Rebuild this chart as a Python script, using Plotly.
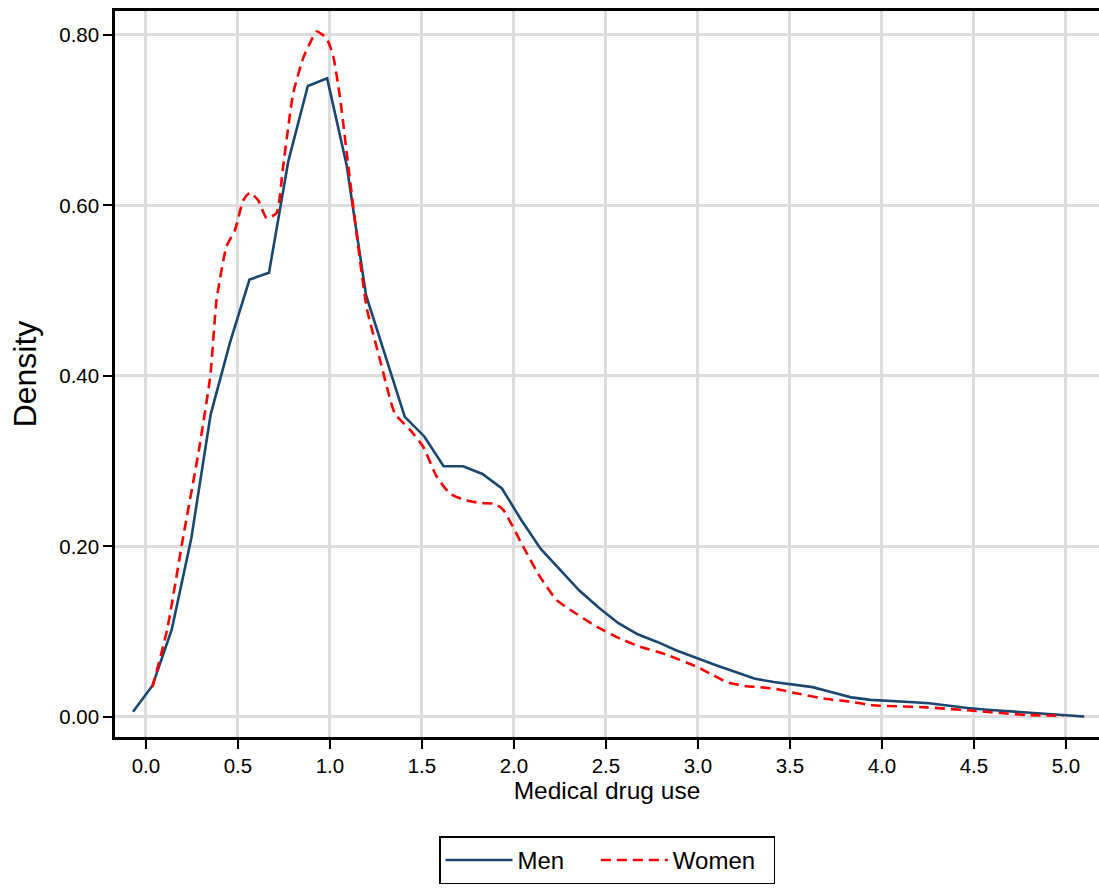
import plotly.graph_objects as go

men_x = [-0.070, 0.036, 0.141, 0.247, 0.352, 0.458, 0.563, 0.669, 0.774, 0.880,
         0.985, 1.091, 1.196, 1.302, 1.407, 1.513, 1.618, 1.724, 1.829, 1.935,
         2.040, 2.146, 2.251, 2.357, 2.462, 2.568, 2.673, 2.779, 2.884, 2.990,
         3.095, 3.201, 3.306, 3.412, 3.517, 3.623, 3.728, 3.834, 3.939, 4.045,
         4.150, 4.256, 4.361, 4.467, 4.572, 4.678, 4.783, 4.889, 4.994, 5.100]
men_y = [0.006, 0.037, 0.103, 0.210, 0.355, 0.440, 0.513, 0.521, 0.652, 0.740,
         0.749, 0.647, 0.495, 0.422, 0.352, 0.329, 0.294, 0.294, 0.285, 0.268,
         0.231, 0.197, 0.172, 0.148, 0.128, 0.110, 0.097, 0.088, 0.078, 0.069,
         0.061, 0.053, 0.045, 0.041, 0.038, 0.035, 0.029, 0.023, 0.020, 0.019,
         0.0175, 0.016, 0.013, 0.0105, 0.0085, 0.007, 0.005, 0.0035, 0.002, 0.0005]

women_x = [0.036, 0.115, 0.200, 0.288, 0.350, 0.384, 0.438, 0.484, 0.529, 0.565,
           0.610, 0.656, 0.710, 0.746, 0.800, 0.855, 0.891, 0.928, 0.982, 1.018,
           1.054, 1.100, 1.145, 1.200, 1.272, 1.353, 1.435, 1.507, 1.580, 1.652,
           1.725, 1.815, 1.897, 1.942, 2.050, 2.140, 2.232, 2.304, 2.449, 2.576,
           2.685, 2.830, 2.993, 3.083, 3.156, 3.264, 3.337, 3.446, 3.518, 3.700,
           3.826, 3.953, 4.243, 4.514, 4.786, 4.986]
women_y = [0.035, 0.102, 0.208, 0.313, 0.400, 0.489, 0.552, 0.571, 0.606, 0.615,
           0.606, 0.585, 0.591, 0.646, 0.731, 0.773, 0.790, 0.804, 0.796, 0.775,
           0.728, 0.646, 0.567, 0.480, 0.419, 0.356, 0.337, 0.317, 0.282, 0.262,
           0.255, 0.251, 0.250, 0.243, 0.200, 0.165, 0.137, 0.126, 0.106, 0.092,
           0.0825, 0.073, 0.059, 0.049, 0.041, 0.036, 0.035, 0.032, 0.0285, 0.021,
           0.018, 0.0137, 0.0113, 0.007, 0.0023, 0.0015]

x_ticks = [0.0, 0.5, 1.0, 1.5, 2.0, 2.5, 3.0, 3.5, 4.0, 4.5, 5.0]
y_ticks = [0.0, 0.2, 0.4, 0.6, 0.8]

FONT = "Liberation Sans, Arial, sans-serif"
NB = "\u00a0"

fig = go.Figure()
fig.add_trace(go.Scatter(x=men_x, y=men_y, mode="lines", name="Men" + NB * 4,
                         line=dict(color="#1a476f", width=2.6)))
fig.add_trace(go.Scatter(x=women_x, y=women_y, mode="lines", name="Women" + NB * 2,
                         line=dict(color="#ff0000", width=2.6, dash="10px,6px",
                                   shape="spline", smoothing=0.5)))

fig.update_layout(
    width=1099, height=891,
    margin=dict(l=115, r=0, t=11, b=154),
    paper_bgcolor="white", plot_bgcolor="white",
    font=dict(family=FONT, size=20.5, color="black"),
    showlegend=True,
    legend=dict(orientation="h", x=0.5, xanchor="center", y=-0.137, yanchor="top",
                bordercolor="black", borderwidth=1.5, font=dict(size=24),
                itemwidth=67, tracegroupgap=0),
    xaxis=dict(range=[-0.168, 5.18], tickvals=x_ticks,
               ticktext=[f"{v:.1f}" for v in x_ticks], automargin=False,
               showgrid=True, gridcolor="#dcdcdc", gridwidth=2.5,
               showline=True, linecolor="black", linewidth=2.5, mirror=True,
               ticks="outside", ticklen=9, tickwidth=2, tickcolor="black",
               zeroline=False,
               title=dict(text="Medical drug use", font=dict(size=24.5), standoff=6)),
    yaxis=dict(range=[-0.0235, 0.828], tickvals=y_ticks,
               ticktext=[f"{v:.2f}" for v in y_ticks], automargin=False,
               showgrid=True, gridcolor="#dcdcdc", gridwidth=2.5,
               showline=True, linecolor="black", linewidth=2.5,
               ticks="outside", ticklen=9, tickwidth=2, tickcolor="black",
               zeroline=False,
               title=dict(text="Density", font=dict(size=32), standoff=14)),
)

fig.write_html("out.html", config={"displayModeBar": False},
               post_script="document.body.style.margin='0';document.body.style.overflow='hidden';")
